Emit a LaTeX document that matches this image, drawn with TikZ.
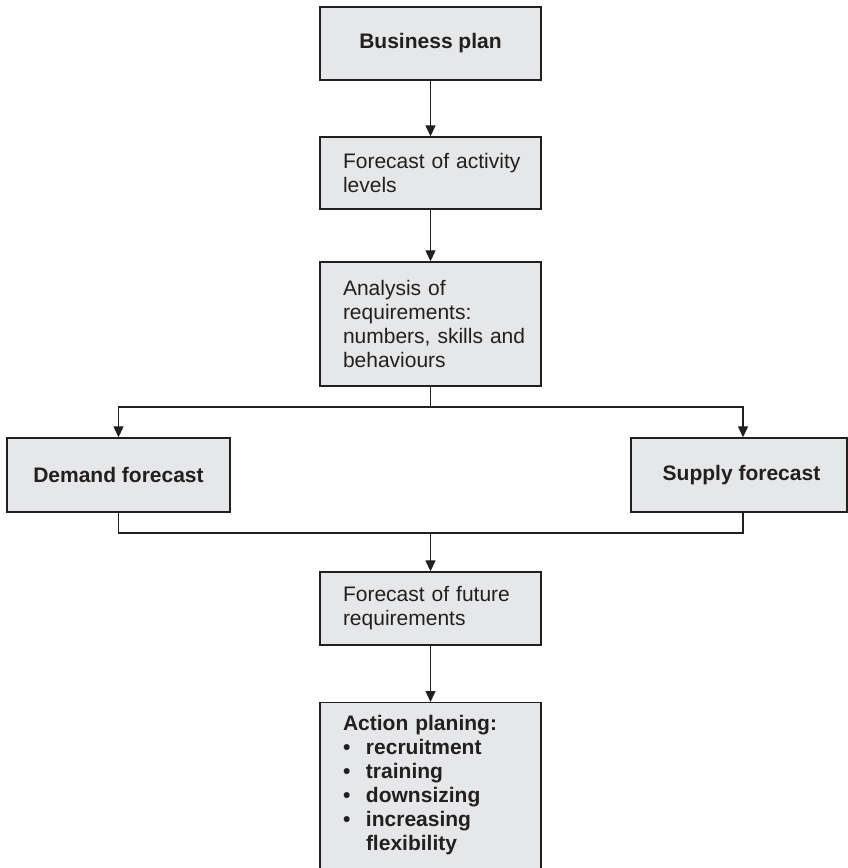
\documentclass[tikz,border=0pt]{standalone}
\usepackage{fontspec}
\setmainfont{Liberation Sans}
\usetikzlibrary{arrows.meta,calc}
\definecolor{boxfill}{HTML}{E6E7E8}
\definecolor{ink}{HTML}{231F20}
\newcommand{\ind}{\hspace*{11.5pt}}
\begin{document}
\begin{tikzpicture}[x=1pt,y=1pt,
  font=\fontsize{21}{24}\selectfont,
  box/.style={draw=ink,fill=boxfill,line width=1.4pt,inner sep=0pt,text=ink},
  leftbox/.style={box,align=left,text width=198pt,inner xsep=11.5pt},
  conn/.style={draw=ink,line width=1.3pt},
  arr/.style={conn,-{Triangle[length=11pt,width=10pt]}}]
\useasboundingbox (0,0) rectangle (848,-868);
\clip (0,0) rectangle (848,-868);
\node[box,minimum width=221pt,minimum height=73pt,font=\fontsize{21}{24}\selectfont\bfseries] (bp) at (430.5,-43.5) {Business plan};
\node[leftbox,minimum height=72pt] (fal) at (430.5,-173) {\ind Forecast of activity\\\ind levels};
\node[leftbox,minimum height=124pt] (ar) at (430.5,-324) {\ind Analysis of\\\ind requirements:\\\ind numbers, skills and\\\ind behaviours};
\node[box,minimum width=223pt,minimum height=74pt,font=\fontsize{21}{24}\selectfont\bfseries] (df) at (118.5,-475) {Demand forecast};
\node[box,minimum width=216pt,minimum height=74pt,font=\fontsize{21}{24}\selectfont\bfseries] (sf) at (739,-475) {\hspace*{5pt}Supply forecast};
\node[leftbox,minimum height=73pt] (ffr) at (430.5,-608.5) {\ind Forecast of future\\\ind requirements};
\node[leftbox,anchor=north,inner ysep=13pt,font=\fontsize{21}{24}\selectfont\bfseries] (ap) at (430.5,-702)
  {\ind Action planing:\\
   \ind\makebox[23pt][l]{\textbullet}recruitment\\
   \ind\makebox[23pt][l]{\textbullet}training\\
   \ind\makebox[23pt][l]{\textbullet}downsizing\\
   \ind\makebox[23pt][l]{\textbullet}increasing\\
   \ind\hspace*{23pt}flexibility\\[4pt]\mbox{}};
\coordinate (split) at (430.5,-407);
\coordinate (merge) at (430.5,-533);
\coordinate (sfin) at ($(sf.north)+(4,0)$);
\coordinate (sfout) at ($(sf.south)+(4,0)$);
\draw[arr] (bp.south) -- (fal.north);
\draw[arr] (fal.south) -- (ar.north);
\draw[conn] (ar.south) -- (split);
\draw[arr] (split) -| (df.north);
\draw[arr] (split) -| (sfin);
\draw[conn] (df.south) |- (merge) -| (sfout);
\draw[arr] (merge) -- (ffr.north);
\draw[arr] (ffr.south) -- (ap.north);
\end{tikzpicture}
\end{document}
